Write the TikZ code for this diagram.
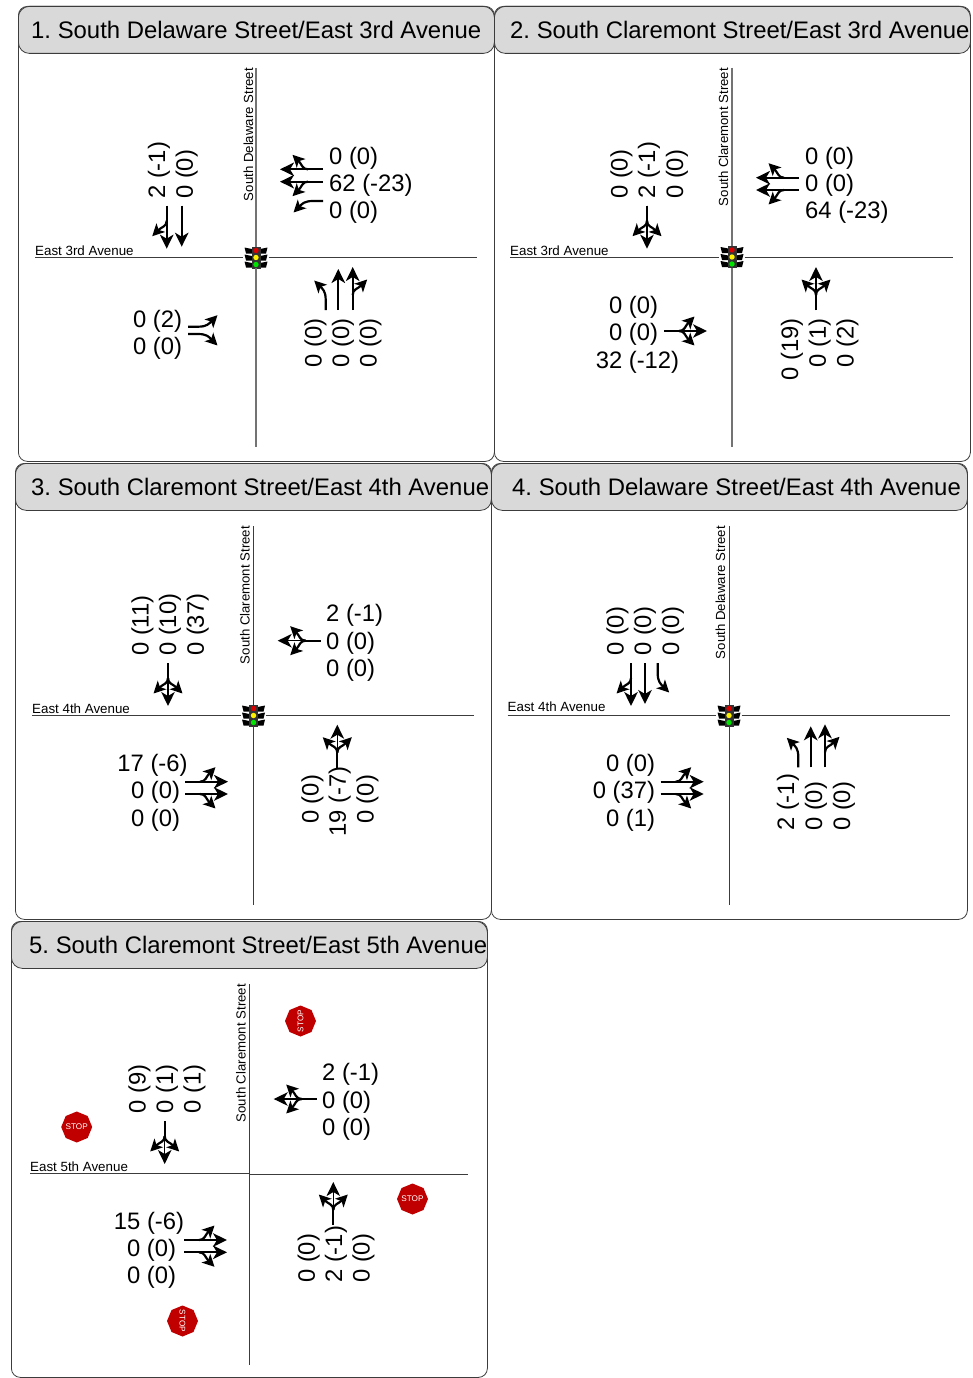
\documentclass[tikz,border=0pt]{standalone}
\usepackage{fontspec}
\setmainfont{Liberation Sans}
\frenchspacing
\usetikzlibrary{shapes.geometric, arrows.meta}
\definecolor{tabgray}{RGB}{217,217,217}
\definecolor{boxline}{RGB}{60,60,60}
\definecolor{stopred}{RGB}{192,0,0}
\tikzset{
  panelbody/.style={rectangle, draw=boxline, fill=white, minimum width=476pt,
    rounded corners=9pt, line width=0.8pt, inner sep=0pt, anchor=north west},
  paneltab/.style={rectangle, draw=boxline, fill=tabgray, minimum width=476pt, minimum height=47pt,
    rounded corners=11pt, line width=0.8pt, inner sep=0pt, anchor=north west},
  titletext/.style={font=\fontsize{23.9}{28}\selectfont, inner sep=0pt, anchor=west,
    text height=17pt, text depth=0pt},
  vol/.style={font=\fontsize{23.8}{28}\selectfont, inner sep=0pt, text height=17pt, text depth=0pt},
  volup/.style={vol, rotate=90},
  streetew/.style={font=\fontsize{13.35}{16}\selectfont, inner sep=0pt, anchor=base west},
  streetns/.style={font=\fontsize{13.2}{16}\selectfont, inner sep=0pt, anchor=base east, rotate=90},
  road/.style={line width=1pt, color=boxline},
  roadgray/.style={line width=1.6pt, color=black!55},
  sigbox/.style={rectangle, minimum width=25pt, minimum height=21pt, inner sep=0pt},
  stopsign/.style={regular polygon, regular polygon sides=8, shape border rotate=22.5,
    fill=stopred, text=white, minimum size=31pt, inner sep=0pt, font=\fontsize{8.2}{10}\selectfont},
  lane/.style={line width=2.2pt, color=black, -{Stealth[length=14pt,width=13.5pt,inset=4pt]}},
  branch/.style={line width=2.2pt, color=black, -{Stealth[length=12pt,width=12pt,inset=3pt]}},
  pics/lanethru/.style={code={\draw[lane] (0,0) -- (0,-41);}},
  pics/laneleft/.style={code={\draw[branch] (0,0) -- (0,-10) .. controls (0,-19) and (-3,-21) .. (-11.5,-29.5);}},
  pics/laneright/.style={code={\draw[branch] (0,0) -- (0,-10) .. controls (0,-19) and (3,-21) .. (11.5,-29.5);}},
  pics/lanethruleft/.style={code={
    \draw[lane] (0,0) -- (0,-43);
    \draw[branch] (0,-15) .. controls (0,-21) and (-5,-21) .. (-14.5,-30.5);}},
  pics/lanethruright/.style={code={
    \draw[lane] (0,0) -- (0,-43);
    \draw[branch] (0,-15) .. controls (0,-21) and (5,-21) .. (14.5,-30.5);}},
  pics/lanethree/.style={code={
    \draw[branch] (0,-15) .. controls (0,-21) and (-5,-21) .. (-14.5,-30.5);
    \draw[branch] (0,-15) .. controls (0,-21) and (5,-21) .. (14.5,-30.5);
    \draw[white, line width=2.8pt] (0,-24) -- (0,-31);
    \draw[lane, line width=1.5pt] (0,0) -- (0,-43);
    \draw[line width=2.2pt] (0,0) -- (0,-16);}},
  pics/signalhead/.style={code={
    \foreach \sy in {-7,0,7} {
      \fill[black] (-11.5,\sy-3) -- (-4,\sy-1.5) -- (-4,\sy+3) -- (-10,\sy+3) -- cycle;
      \fill[black] (11.5,\sy-3) -- (4,\sy-1.5) -- (4,\sy+3) -- (10,\sy+3) -- cycle;
    }
    \fill[black!80] (-4.5,-11) rectangle (4.5,11);
    \fill[red!85!black] (0,-7) circle (2.7);
    \fill[yellow] (0,0) circle (2.7);
    \fill[green!90!black] (0,7) circle (2.7);}}
}
\newcommand{\panel}[6]{
  \node[panelbody, minimum height=#5pt] (body#1) at (#2,#3) {};
  \node[paneltab] (tab#1) at (#2,#3) {};
  \node[titletext] (title#1) at (#2+#4,#3+24) {#6};
}
\newcommand{\stack}[3]{
  \foreach \vx/\vy/\vt [count=\k] in {#3} \node[#2] (#1\k) at (\vx,\vy) {\vt};
}
\newcommand{\lanes}[1]{
  \foreach \lx/\ly/\ang/\kind in {#1} \pic[rotate=\ang] at (\lx,\ly) {\kind};
}
\begin{document}
\begin{tikzpicture}[x=1pt,y=-1pt]
  \useasboundingbox (0,0) rectangle (972,1378);
  \panel{1}{18}{6}{13}{455}{1. South Delaware Street/East 3rd Avenue}
  \panel{2}{494}{6}{16}{455}{2. South Claremont Street/East 3rd Avenue}
  \panel{3}{15}{463}{16}{456}{3. South Claremont Street/East 4th Avenue}
  \panel{4}{491}{463}{21}{456}{4. South Delaware Street/East 4th Avenue}
  \panel{5}{11}{921}{18}{456}{5. South Claremont Street/East 5th Avenue}

  % panel 1
  \node[sigbox] (sig1) at (256,257.5) {};
  \pic at (sig1) {signalhead};
  \coordinate (w1) at (35,257.5); \coordinate (e1) at (477,257.5);
  \coordinate (n1) at (256,68); \coordinate (s1) at (256,447);
  \draw[road] (w1) -- (sig1.west);
  \draw[road] (sig1.east) -- (e1);
  \draw[roadgray] (n1) -- (sig1.north);
  \draw[roadgray] (sig1.south) -- (s1);
  \node[streetew] (ew1) at (35,255) {East 3rd Avenue};
  \node[streetns] (ns1) at (253,68) {South Delaware Street};
  \stack{ve1-}{vol, anchor=west}{329/156/0 (0), 329/183/62 (-23), 329/210/0 (0)}
  \stack{vw1-}{vol}{157.5/319/0 (2), 157.5/346/0 (0)}
  \stack{vn1-}{volup, anchor=west}{156.7/199/2 (-1), 184.3/199/0 (0)}
  \stack{vs1-}{volup, anchor=east}{313.2/318/0 (0), 340.5/318/0 (0), 368/318/0 (0)}
  \lanes{323/169.3/90/lanethruright, 323/181.7/90/lanethruleft, 323/201/90/laneleft,
    166.7/205.7/180/lanethruright, 181.7/205.7/180/lanethru,
    188/326.7/-90/laneleft, 188/334/-90/laneright,
    325.7/310/0/laneleft, 338.3/310/0/lanethru, 352.7/310/0/lanethruright}

  % panel 2
  \node[sigbox] (sig2) at (732,257) {};
  \pic at (sig2) {signalhead};
  \coordinate (w2) at (510,257); \coordinate (e2) at (953,257);
  \coordinate (n2) at (732,68); \coordinate (s2) at (732,447);
  \draw[road] (w2) -- (sig2.west);
  \draw[road] (sig2.east) -- (e2);
  \draw[roadgray] (n2) -- (sig2.north);
  \draw[roadgray] (sig2.south) -- (s2);
  \node[streetew] (ew2) at (510,255) {East 3rd Avenue};
  \node[streetns] (ns2) at (728,68) {South Claremont Street};
  \stack{ve2-}{vol, anchor=west}{805/156/0 (0), 805/183/0 (0), 805/210/64 (-23)}
  \stack{vw2-}{vol}{633.5/305/0 (0), 633.5/332/0 (0), 637.5/360/32 (-12)}
  \stack{vn2-}{volup, anchor=west}{619/199/0 (0), 646.5/199/2 (-1), 674.5/199/0 (0)}
  \stack{vs2-}{volup, anchor=east}{789.7/318/0 (19), 817.3/318/0 (1), 845/318/0 (2)}
  \lanes{799/177.7/90/lanethruright, 799/190/90/lanethruleft,
    647/205.7/180/lanethree, 664/331/-90/lanethree, 816/310/0/lanethree}

  % panel 3
  \node[sigbox] (sig3) at (253.5,715.5) {};
  \pic at (sig3) {signalhead};
  \coordinate (w3) at (32,715.5); \coordinate (e3) at (474,715.5);
  \coordinate (n3) at (253.5,526); \coordinate (s3) at (253.5,905);
  \draw[road] (w3) -- (sig3.west);
  \draw[road] (sig3.east) -- (e3);
  \draw[road] (n3) -- (sig3.north);
  \draw[road] (sig3.south) -- (s3);
  \node[streetew] (ew3) at (32,713) {East 4th Avenue};
  \node[streetns] (ns3) at (249.5,526) {South Claremont Street};
  \stack{ve3-}{vol, anchor=west}{326/613/2 (-1), 326/641/0 (0), 326/668/0 (0)}
  \stack{vw3-}{vol}{152.5/763/17 (-6), 155.5/790/0 (0), 155.5/818/0 (0)}
  \stack{vn3-}{volup, anchor=west}{140/656/0 (11), 167.7/656/0 (10), 195.3/656/0 (37)}
  \stack{vs3-}{volup}{310/799.5/0 (0), 337.3/801.5/19 (-7), 365/799.5/0 (0)}
  \lanes{320.7/640.7/90/lanethree, 168/663/180/lanethree,
    185/781.7/-90/lanethruleft, 185/794/-90/lanethruright, 337.3/767.7/0/lanethree}

  % panel 4
  \node[sigbox] (sig4) at (729,715.5) {};
  \pic at (sig4) {signalhead};
  \coordinate (w4) at (507.5,715.5); \coordinate (e4) at (950,715.5);
  \coordinate (n4) at (729,526); \coordinate (s4) at (729,905);
  \draw[road] (w4) -- (sig4.west);
  \draw[road] (sig4.east) -- (e4);
  \draw[road] (n4) -- (sig4.north);
  \draw[road] (sig4.south) -- (s4);
  \node[streetew] (ew4) at (507.5,711) {East 4th Avenue};
  \node[streetns] (ns4) at (725,526) {South Delaware Street};
  \stack{vw4-}{vol}{630.5/763/0 (0), 624/790/0 (37), 630.5/818/0 (1)}
  \stack{vn4-}{volup, anchor=west}{615/656/0 (0), 642.7/656/0 (0), 670.6/656/0 (0)}
  \stack{vs4-}{volup, anchor=west}{785.7/831/2 (-1), 813.5/831/0 (0), 841.5/831/0 (0)}
  \lanes{631/663/180/lanethruright, 645/663/180/lanethru, 657.7/663/180/laneleft,
    660.7/781.7/-90/lanethruleft, 660.7/794/-90/lanethruright,
    798.3/767.3/0/laneleft, 810.7/767.3/0/lanethru, 825/767.3/0/lanethruright}

  % panel 5
  \coordinate (w5) at (30,1173); \coordinate (c5w) at (249.5,1173);
  \coordinate (c5e) at (249.5,1174.5); \coordinate (e5) at (468,1174.5);
  \coordinate (n5) at (249.5,984); \coordinate (s5) at (249.5,1365);
  \draw[road] (w5) -- (c5w);
  \draw[road] (c5e) -- (e5);
  \draw[road] (n5) -- (s5);
  \node[streetew] (ew5) at (30,1171) {East 5th Avenue};
  \node[streetns] (ns5) at (245.5,984) {South Claremont Street};
  \stack{ve5-}{vol, anchor=west}{322/1072.3/2 (-1), 322/1099.7/0 (0), 322/1127/0 (0)}
  \stack{vw5-}{vol}{149/1220.7/15 (-6), 151.5/1248/0 (0), 151.5/1275/0 (0)}
  \stack{vn5-}{volup, anchor=west}{137.2/1113.5/0 (9), 164.5/1113.5/0 (1), 192/1113.5/0 (1)}
  \stack{vs5-}{volup, anchor=west}{306.3/1283/0 (0), 333.7/1283/2 (-1), 361/1283/0 (0)}
  \lanes{316.7/1099/90/lanethree, 164.7/1121/180/lanethree,
    184/1240/-90/lanethruleft, 184/1252.3/-90/lanethruright, 333.3/1225/0/lanethree}
  \node[stopsign, rotate=90] (stopn) at (300.5,1021) {\makebox[0pt]{STOP}};
  \node[stopsign] (stopw) at (76.7,1127) {\makebox[0pt]{STOP}};
  \node[stopsign] (stope) at (412.5,1199) {\makebox[0pt]{STOP}};
  \node[stopsign, rotate=-90] (stops) at (182.5,1321) {\makebox[0pt]{STOP}};
\end{tikzpicture}
\end{document}
